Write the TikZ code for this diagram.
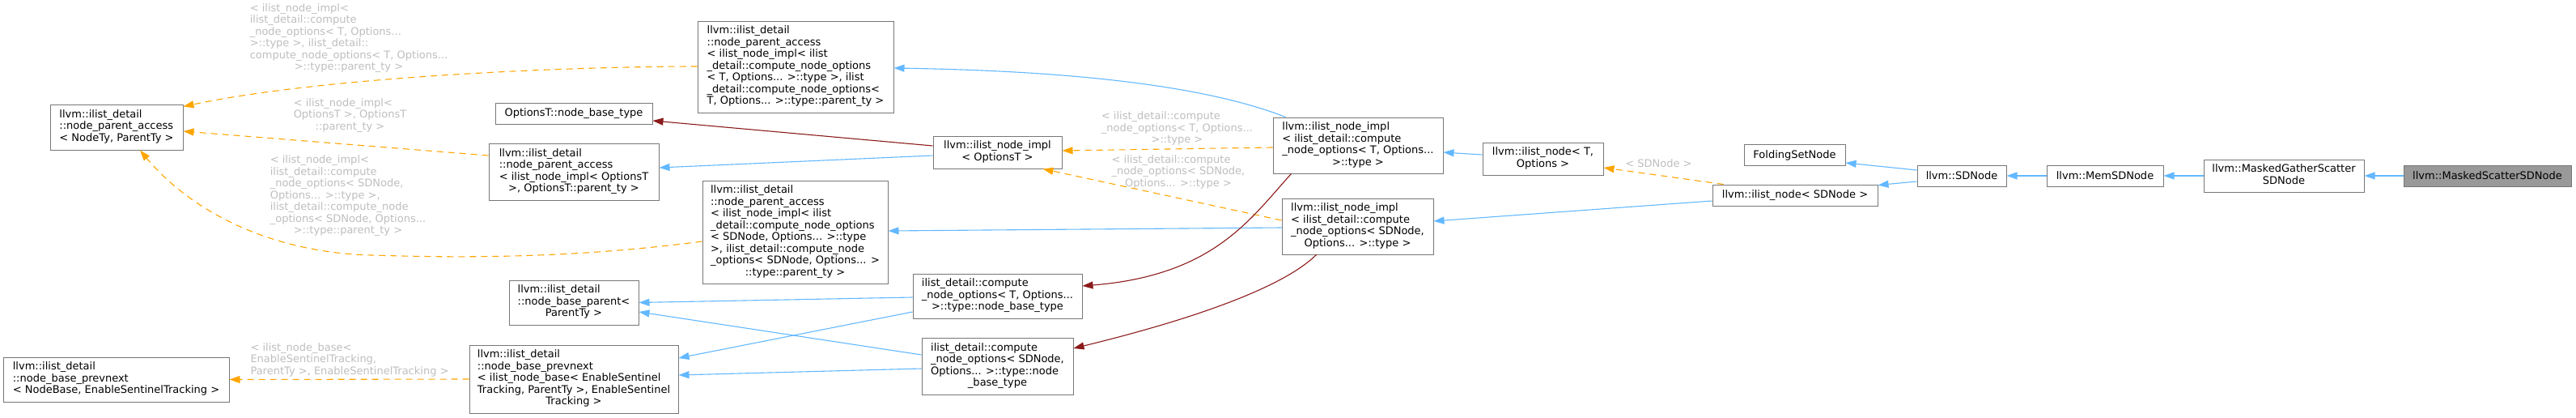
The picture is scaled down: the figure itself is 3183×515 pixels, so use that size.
\documentclass[tikz,border=0pt]{standalone}
\usepackage{fontspec}
\setmainfont{DejaVu Sans}
\usetikzlibrary{arrows.meta}
\definecolor{inhblue}{HTML}{63B8FF}
\definecolor{tmplorange}{HTML}{FFA500}
\definecolor{privred}{HTML}{8B1A1A}
\definecolor{boxgray}{HTML}{777777}
\definecolor{lblgray}{HTML}{BEBEBE}
\definecolor{curgray}{HTML}{999999}
\newcommand{\cls}[2]{\begin{tabular}{@{}l@{}}#1\\\multicolumn{1}{@{}c@{}}{#2}\end{tabular}}

\begin{document}
\begin{tikzpicture}[
  x=1pt, y=-1pt,
  every node/.style={font=\fontsize{13}{14.5}\selectfont},
  cls/.style={rectangle, draw=boxgray, line width=1pt, fill=white, inner sep=0pt},
  lbl/.style={text=lblgray, inner sep=0pt},
  inh/.style={-{Triangle[length=13pt,width=9pt]}, line width=1.1pt, draw=inhblue},
  tmpl/.style={-{Triangle[length=13pt,width=9pt]}, line width=1.1pt, draw=tmplorange, fill=none, dash pattern=on 8pt off 6pt},
  priv/.style={-{Triangle[length=13pt,width=9pt]}, line width=1.1pt, draw=privred},
]
  \useasboundingbox (0,0) rectangle (3183,515);

  \node[cls,minimum width=164pt,minimum height=56pt] (npa) at (144,157) {\cls{llvm::ilist\_detail\\::node\_parent\_access}{< NodeTy, ParentTy >}};
  \node[cls,minimum width=279pt,minimum height=55pt] (prevnextbase) at (143.5,468.5) {\cls{llvm::ilist\_detail\\::node\_base\_prevnext}{< NodeBase, EnableSentinelTracking >}};
  \node[cls,minimum width=194pt,minimum height=26pt] (nbt) at (709,140) {OptionsT::node\_base\_type};
  \node[cls,minimum width=210pt,minimum height=70pt] (npaopt) at (709,212) {\cls{llvm::ilist\_detail\\::node\_parent\_access\\< ilist\_node\_impl< OptionsT}{>, OptionsT::parent\_ty >}};
  \node[cls,minimum width=160pt,minimum height=55pt] (nbparent) at (709,373.5) {\cls{llvm::ilist\_detail\\::node\_base\_parent<}{ParentTy >}};
  \node[cls,minimum width=258pt,minimum height=84pt] (prevnext) at (709,468) {\cls{llvm::ilist\_detail\\::node\_base\_prevnext\\< ilist\_node\_base< EnableSentinel\\Tracking, ParentTy >, EnableSentinel}{Tracking >}};
  \node[cls,minimum width=242pt,minimum height=113pt] (npaT) at (983,82.5) {\cls{llvm::ilist\_detail\\::node\_parent\_access\\< ilist\_node\_impl< ilist\\\_detail::compute\_node\_options\\< T, Options... >::type >, ilist\\\_detail::compute\_node\_options<}{T, Options... >::type::parent\_ty >}};
  \node[cls,minimum width=229pt,minimum height=127pt] (npasd) at (982.5,286.5) {\cls{llvm::ilist\_detail\\::node\_parent\_access\\< ilist\_node\_impl< ilist\\\_detail::compute\_node\_options\\< SDNode, Options... >::type\\>, ilist\_detail::compute\_node\\\_options< SDNode, Options... >}{::type::parent\_ty >}};
  \node[cls,minimum width=159pt,minimum height=40pt] (implopt) at (1232.5,188) {\cls{llvm::ilist\_node\_impl}{< OptionsT >}};
  \node[cls,minimum width=209pt,minimum height=55pt] (cnoT) at (1232.5,365.5) {\cls{ilist\_detail::compute\\\_node\_options< T, Options...}{>::type::node\_base\_type}};
  \node[cls,minimum width=187pt,minimum height=70pt] (cnosd) at (1232.5,452) {\cls{ilist\_detail::compute\\\_node\_options< SDNode,\\Options... >::type::node}{\_base\_type}};
  \node[cls,minimum width=210pt,minimum height=69pt] (implT) at (1678,179.5) {\cls{llvm::ilist\_node\_impl\\< ilist\_detail::compute\\\_node\_options< T, Options...}{>::type >}};
  \node[cls,minimum width=187pt,minimum height=69pt] (implsd) at (1677.5,279.5) {\cls{llvm::ilist\_node\_impl\\< ilist\_detail::compute\\\_node\_options< SDNode,}{Options... >::type >}};
  \node[cls,minimum width=149pt,minimum height=40pt] (ilnT) at (1906.5,196) {\cls{llvm::ilist\_node< T,}{Options >}};
  \node[cls,minimum width=125pt,minimum height=26pt] (folding) at (2217.5,191.5) {FoldingSetNode};
  \node[cls,minimum width=204pt,minimum height=26pt] (ilnsd) at (2218,241) {llvm::ilist\_node< SDNode >};
  \node[cls,minimum width=110pt,minimum height=26pt] (sdnode) at (2424,217) {llvm::SDNode};
  \node[cls,minimum width=144pt,minimum height=26pt] (memsd) at (2601,217) {llvm::MemSDNode};
  \node[cls,minimum width=198pt,minimum height=40pt] (gatherscatter) at (2822,217) {\cls{llvm::MaskedGatherScatter}{SDNode}};
  \node[cls,fill=curgray,minimum width=207pt,minimum height=26pt] (scatter) at (3073.5,217) {llvm::MaskedScatterSDNode};

  \node[lbl] (lnpaT) at (431,47.5) {\cls{< ilist\_node\_impl<\\ilist\_detail::compute\\\_node\_options< T, Options...\\>::type >, ilist\_detail::\\compute\_node\_options< T, Options...}{>::type::parent\_ty >}};
  \node[lbl] (lnpaopt) at (432.5,143) {\cls{< ilist\_node\_impl<\\OptionsT >, OptionsT}{::parent\_ty >}};
  \node[lbl] (lnpasd) at (430,242.5) {\cls{< ilist\_node\_impl<\\ilist\_detail::compute\\\_node\_options< SDNode,\\Options... >::type >,\\ilist\_detail::compute\_node\\\_options< SDNode, Options...}{>::type::parent\_ty >}};
  \node[lbl] (lprevnext) at (432,445) {\cls{< ilist\_node\_base<\\EnableSentinelTracking,}{ParentTy >, EnableSentinelTracking >}};
  \node[lbl] (limplT) at (1454.5,159.5) {\cls{< ilist\_detail::compute\\\_node\_options< T, Options...}{>::type >}};
  \node[lbl] (limplsd) at (1456,213) {\cls{< ilist\_detail::compute\\\_node\_options< SDNode,}{Options... >::type >}};
  \node[lbl] (lsd) at (2049.5,202) {< SDNode >};

  \draw[inh] (scatter.west) -- (gatherscatter.east);
  \draw[inh] (gatherscatter.west) -- (memsd.east);
  \draw[inh] (memsd.west) -- (sdnode.east);
  \draw[inh] ([yshift=7pt]sdnode.west) -- ([yshift=-9.5pt]folding.east);
  \draw[inh] ([yshift=-7pt]sdnode.west) -- ([yshift=-1pt]ilnsd.north east);
  \draw[tmpl] ([xshift=14pt]ilnsd.north west) -- ([yshift=-11pt]ilnT.east);
  \draw[inh] ([yshift=-7pt]ilnsd.west) -- ([yshift=6.5pt]implsd.east);
  \draw[inh] ([yshift=5pt]ilnT.west) -- ([yshift=-8.5pt]implT.east);
  \draw[tmpl] ([yshift=-2.5pt]implT.west) -- ([yshift=2pt]implopt.east);
  \draw[tmpl] ([yshift=7.5pt]implsd.west) -- ([xshift=-24pt]implopt.south east);
  \draw[inh] ([xshift=16pt]implT.north west) .. controls (1500,110) and (1350,88) .. ([yshift=-1.5pt]npaT.east);
  \draw[inh] ([yshift=-1.5pt]implsd.west) -- ([yshift=1.5pt]npasd.east);
  \draw[priv] ([xshift=23pt]implT.south west) .. controls (1545,270) and (1500,340) .. ([yshift=12.5pt]cnoT.east);
  \draw[priv] ([xshift=43pt]implsd.south west) .. controls (1580,360) and (1450,400) .. ([yshift=22pt]cnosd.east);
  \draw[priv] ([yshift=8pt]implopt.west) -- ([yshift=-9pt]nbt.east);
  \draw[inh] ([yshift=-4pt]implopt.west) -- ([yshift=5pt]npaopt.east);
  \draw[tmpl] ([yshift=0.5pt]npaT.west) .. controls (700,82) and (400,95) .. ([yshift=-3pt]npa.north east);
  \draw[tmpl] ([yshift=20pt]npaopt.west) -- ([yshift=-5pt]npa.east);
  \draw[tmpl] ([yshift=-11.5pt]npasd.west) .. controls (700,320) and (560,318) .. (459,315) .. controls (340,312) and (240,265) .. ([xshift=29pt]npa.south);
  \draw[inh] ([yshift=-1.5pt]cnoT.west) -- (nbparent.east);
  \draw[inh] ([yshift=-19.5pt]cnoT.west) -- ([yshift=26pt]prevnext.east);
  \draw[inh] ([yshift=14pt]cnosd.west) -- ([yshift=-11.5pt]nbparent.east);
  \draw[inh] ([yshift=-3pt]cnosd.west) -- ([yshift=5pt]prevnext.east);
  \draw[tmpl] (prevnext.west) -- (prevnextbase.east);
\end{tikzpicture}
\end{document}
